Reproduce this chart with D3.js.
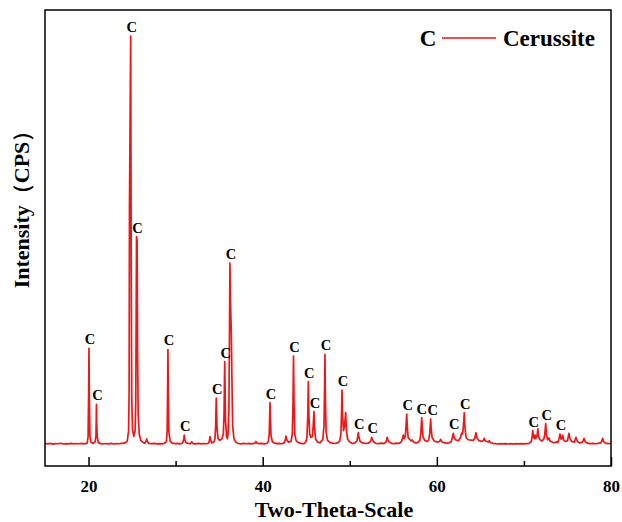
<!DOCTYPE html>
<html>
<head>
<meta charset="utf-8">
<script src="https://cdn.jsdelivr.net/npm/d3@7"></script>
<style>
  html, body { margin: 0; padding: 0; background: #fff; }
  svg { display: block; }
  text { font-family: "Times New Roman", "Liberation Serif", serif; font-weight: bold; fill: #000; }
</style>
</head>
<body>
<svg id="chart" width="622" height="522"></svg>
<script>
// XRD scan of the sample: [2θ (deg), intensity (CPS)]
const scan = [
  [15.0,398],[15.3,388],[15.6,396],[15.9,385],[16.2,394],[16.5,390],[16.8,399],[17.1,386],
  [17.4,393],[17.7,389],[18.0,397],[18.3,387],[18.6,395],[18.9,390],[19.2,398],[19.5,388],[19.75,396],
  [19.85,405],[19.95,520],[20.01,1250],[20.05,2065],[20.09,1250],[20.16,520],[20.28,420],
  [20.50,395],[20.75,420],[20.85,520],[20.88,760],[20.91,1082],[20.94,760],[20.99,520],[21.12,410],
  [21.4,392],[21.7,386],[22.0,395],[22.3,389],[22.6,397],[22.9,386],[23.2,394],[23.5,390],
  [23.8,398],[24.1,400],[24.35,420],
  [24.45,440],[24.60,620],[24.66,1300],[24.70,4550],[24.84,7544],[24.90,3500],[24.96,1200],
  [25.05,640],[25.2,520],
  [25.35,620],[25.42,1100],[25.47,2600],[25.51,4026],[25.58,3950],[25.63,2000],[25.70,900],
  [25.82,560],[26.0,450],[26.3,410],
  [26.45,400],[26.6,430],[26.68,474],[26.76,430],[26.9,398],
  [27.2,390],[27.5,396],[27.8,387],[28.1,394],[28.4,389],[28.7,398],[28.9,420],
  [28.95,440],[29.03,620],[29.08,1300],[29.12,2044],[29.16,1300],[29.23,600],[29.38,430],[29.6,400],
  [29.9,392],[30.2,398],[30.5,389],[30.75,400],
  [30.85,420],[30.94,480],[30.99,544],[31.04,480],[31.15,415],[31.4,397],
  [31.7,392],[31.85,425],[32.0,394],
  [32.3,389],[32.6,396],[32.9,388],[33.2,395],[33.5,390],[33.75,398],
  [33.85,420],[33.95,514],[34.05,440],[34.15,405],[34.40,420],
  [34.52,480],[34.60,700],[34.64,1000],[34.67,1193],[34.70,1000],[34.76,650],[34.88,480],[35.05,450],
  [35.30,470],[35.48,560],[35.56,900],[35.61,1500],[35.64,1833],[35.67,1500],[35.73,800],[35.85,520],[35.95,480],
  [36.02,560],[36.12,1000],[36.19,2400],[36.24,3561],[36.30,2900],[36.40,2316],[36.46,1600],
  [36.55,700],[36.70,480],[36.9,420],
  [37.2,395],[37.5,388],[37.8,396],[38.1,390],[38.4,397],[38.7,388],[39.0,396],
  [39.15,405],[39.23,430],[39.32,400],
  [39.6,392],[39.9,398],[40.2,388],[40.5,400],
  [40.65,430],[40.75,560],[40.80,850],[40.84,1111],[40.88,850],[40.95,540],[41.1,430],[41.3,405],
  [41.6,392],[41.9,398],[42.2,390],[42.45,405],
  [42.58,450],[42.68,526],[42.78,455],[42.95,420],
  [43.25,430],[43.40,560],[43.48,1100],[43.54,1930],[43.60,1100],[43.68,560],[43.85,440],[44.1,410],
  [44.4,396],[44.7,390],[44.95,420],
  [45.08,500],[45.17,850],[45.24,1479],[45.30,900],[45.40,560],[45.55,500],
  [45.70,520],[45.80,700],[45.89,953],[45.96,650],[46.08,470],[46.3,420],
  [46.6,410],[46.90,470],[47.04,700],[47.10,1300],[47.15,1960],[47.20,1200],[47.28,600],[47.45,450],[47.7,415],
  [48.0,400],[48.3,395],[48.6,405],[48.85,440],
  [48.98,560],[49.06,950],[49.11,1333],[49.17,900],[49.28,620],[49.40,700],[49.53,935],[49.60,650],
  [49.75,470],[50.0,420],
  [50.3,395],[50.6,405],[50.82,440],
  [50.90,500],[50.98,584],[51.06,500],[51.2,430],[51.5,405],
  [51.8,395],[52.1,400],[52.35,425],
  [52.45,460],[52.52,504],[52.60,460],[52.75,420],
  [53.0,398],[53.3,392],[53.6,400],[53.9,393],[54.15,415],
  [54.24,460],[54.31,504],[54.38,455],[54.55,415],
  [54.8,398],[55.1,392],[55.4,400],[55.7,395],[55.95,430],
  [56.08,500],[56.15,544],[56.25,480],[56.38,520],[56.47,720],[56.54,912],[56.60,700],[56.70,500],[56.85,470],
  [57.05,440],[57.18,456],[57.3,425],[57.55,405],
  [57.8,410],[58.05,450],
  [58.15,560],[58.21,700],[58.26,847],[58.31,700],[58.40,520],[58.6,450],[58.85,430],
  [59.05,450],[59.18,560],[59.24,700],[59.29,825],[59.34,680],[59.45,500],[59.7,440],
  [60.0,420],[60.3,430],[60.44,468],[60.55,430],[60.8,410],
  [61.1,400],[61.4,405],[61.65,430],
  [61.78,500],[61.89,574],[61.98,500],[62.15,460],
  [62.50,440],[62.72,500],[62.85,579],[62.95,560],[63.05,700],[63.15,935],[63.22,700],[63.35,500],[63.6,460],
  [64.2,450],[64.38,500],[64.49,584],[64.58,500],[64.8,450],[65.1,430],
  [65.3,440],[65.45,486],[65.55,440],[65.75,430],
  [65.9,420],[66.02,444],[66.15,410],[66.4,398],
  [66.7,392],[67.0,386],[67.3,393],[67.6,387],[67.9,394],[68.2,386],[68.5,392],[68.8,385],
  [69.1,393],[69.4,387],[69.7,394],[70.0,388],[70.3,392],[70.6,395],[70.85,430],
  [70.95,520],[71.01,620],[71.08,520],[71.2,480],[71.27,544],[71.35,480],[71.50,520],[71.6,650],
  [71.68,520],[71.85,460],[72.1,440],[72.3,480],
  [72.40,560],[72.50,745],[72.58,560],[72.72,460],[72.88,491],[72.98,440],
  [73.3,415],[73.6,410],[73.76,426],[73.9,410],
  [74.03,480],[74.14,561],[74.25,470],[74.36,480],[74.45,544],[74.55,460],[74.75,430],
  [75.0,440],[75.1,520],[75.17,574],[75.28,480],[75.5,430],
  [75.8,420],[75.98,504],[76.15,430],[76.4,405],
  [76.75,420],[76.90,486],[77.05,420],[77.3,400],
  [77.6,392],[77.9,398],[78.2,390],[78.5,396],[78.8,405],
  [78.95,440],[79.04,486],[79.15,430],[79.35,400],[79.6,393],[80.0,396]
];

// Reflections indexed as cerussite (2θ of the marked peaks)
const cerussitePeaks = [
  20.05, 20.91, 24.84, 25.51, 29.12, 30.99, 34.67, 35.64, 36.24, 40.84,
  43.54, 45.24, 45.89, 47.15, 49.11, 50.98, 52.52, 56.54, 58.26, 59.29,
  61.89, 63.15, 71.01, 72.50, 74.14
];
const peakMark = "C";
const phaseName = "Cerussite";

const majorTicks = [20, 40, 60, 80];
const minorTicks = [30, 50, 70];
const xDomain = [15, 80];
const yDomain = [0, 8000];

const xTitle = "Two-Theta-Scale";
const yTitle = "Intensity（CPS）";

const lineColor = "#ee1616";

const svg = d3.select("#chart");
const plot = { left: 45, right: 611, top: 10, bottom: 466 };

const x = d3.scaleLinear().domain(xDomain).range([plot.left, plot.right]);
const y = d3.scaleLinear().domain(yDomain).range([plot.bottom, plot.top]);

// pattern
const clipId = "plot-clip";
svg.append("clipPath").attr("id", clipId)
  .append("rect")
  .attr("x", plot.left).attr("y", plot.top)
  .attr("width", plot.right - plot.left).attr("height", plot.bottom - plot.top);

const line = d3.line().x(d => x(d[0])).y(d => y(d[1]));
svg.append("path")
  .datum(scan)
  .attr("clip-path", `url(#${clipId})`)
  .attr("fill", "none")
  .attr("stroke", lineColor)
  .attr("stroke-width", 1.7)
  .attr("stroke-linejoin", "round")
  .attr("d", line);

// peak marks: placed above each apex, neighbours that would collide are spread apart
const apex = t => scan.find(d => d[0] === t);
const marks = cerussitePeaks.map(t => ({ cx: x(t) + 1, by: y(apex(t)[1]) - 4 }));
const markW = 11;
for (let i = 1; i < marks.length; i++) {
  const a = marks[i - 1], b = marks[i];
  if (Math.abs(a.by - b.by) < 12 && b.cx - a.cx < markW) {
    const push = (markW - (b.cx - a.cx)) / 2;
    a.cx -= push;
    b.cx += push;
  }
}
svg.append("g")
  .selectAll("text")
  .data(marks)
  .join("text")
  .attr("x", d => d.cx)
  .attr("y", d => d.by)
  .attr("text-anchor", "middle")
  .attr("font-size", 14.5)
  .text(peakMark);

// bottom axis, ticks pointing inward
const xAxis = svg.append("g")
  .attr("transform", `translate(0,${plot.bottom})`)
  .call(d3.axisBottom(x).tickValues(majorTicks).tickSizeInner(-9).tickSizeOuter(0).tickFormat(d3.format("d")));
xAxis.select(".domain").remove();
xAxis.selectAll(".tick line").attr("stroke", "#000").attr("stroke-width", 1.5);
xAxis.selectAll(".tick text")
  .attr("y", 26).attr("dy", null)
  .attr("font-size", 17)
  .attr("font-family", null)
  .style("font-weight", "bold");

const xMinor = svg.append("g")
  .attr("transform", `translate(0,${plot.bottom})`)
  .call(d3.axisBottom(x).tickValues(minorTicks).tickSizeInner(-5).tickSizeOuter(0).tickFormat(""));
xMinor.select(".domain").remove();
xMinor.selectAll(".tick line").attr("stroke", "#000").attr("stroke-width", 1.5);

// frame
svg.append("rect")
  .attr("x", plot.left).attr("y", plot.top)
  .attr("width", plot.right - plot.left).attr("height", plot.bottom - plot.top)
  .attr("fill", "none").attr("stroke", "#000").attr("stroke-width", 1.5);

// axis titles
svg.append("text")
  .attr("x", 334)
  .attr("y", 517)
  .attr("text-anchor", "middle")
  .attr("font-size", 22)
  .text(xTitle);

svg.append("text")
  .attr("transform", `translate(29,${204}) rotate(-90)`)
  .attr("text-anchor", "middle")
  .attr("font-size", 22)
  .text(yTitle);

// legend
const legend = svg.append("g").attr("transform", "translate(0,38)");
legend.append("text").attr("x", 428).attr("y", 8).attr("text-anchor", "middle").attr("font-size", 23).text(peakMark);
legend.append("line").attr("x1", 442).attr("x2", 496).attr("y1", 0).attr("y2", 0)
  .attr("stroke", lineColor).attr("stroke-width", 1.6);
legend.append("text").attr("x", 503).attr("y", 8).attr("font-size", 23).text(phaseName);
</script>
</body>
</html>
